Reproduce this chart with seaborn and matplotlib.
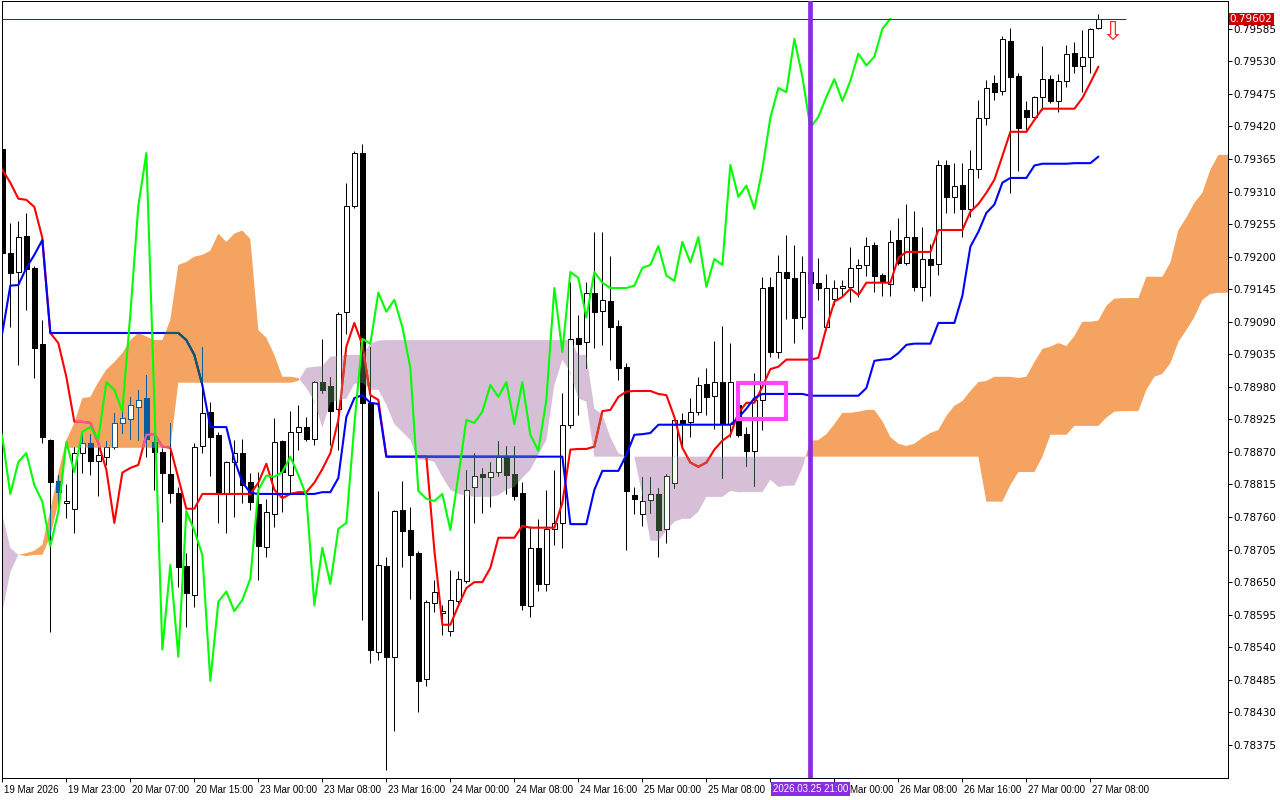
import numpy as np
import pandas as pd
import seaborn as sns
import matplotlib
matplotlib.use("Agg")
import matplotlib.transforms as mtransforms
from matplotlib import pyplot as plt
from matplotlib.path import Path
from matplotlib.patches import Rectangle

# H1 bars, 19 Mar 2026 15:00 .. 27 Mar 2026 09:00
opens = [
    0.79382, 0.79206, 0.79174, 0.79235, 0.79181, 0.79053, 0.78890, 0.78821, 0.78784, 0.78774,
    0.78868, 0.78885, 0.78855, 0.78862, 0.78879, 0.78919, 0.78926, 0.78946, 0.78961, 0.78887,
    0.78870, 0.78833, 0.78801, 0.78677, 0.78628, 0.78880, 0.78938, 0.78899, 0.78799, 0.78853,
    0.78868, 0.78819, 0.78782, 0.78710, 0.78765, 0.78889, 0.78831, 0.78904, 0.78912, 0.78892,
    0.78988, 0.78982, 0.78943, 0.79107, 0.79286, 0.79375, 0.78953, 0.78532, 0.78677, 0.78524,
    0.78772, 0.78738, 0.78699, 0.78486, 0.78615, 0.78598, 0.78568, 0.78618, 0.78652, 0.78811,
    0.78833, 0.78828, 0.78836, 0.78862, 0.78833, 0.78801, 0.78610, 0.78708, 0.78647, 0.78740,
    0.78750, 0.78916, 0.79063, 0.79056, 0.79139, 0.79108, 0.79125, 0.79083, 0.79014, 0.78797,
    0.78765, 0.78789, 0.78799, 0.78740, 0.78818, 0.78924, 0.78921, 0.78938, 0.78985, 0.78965,
    0.78988, 0.78917, 0.78950, 0.78900, 0.78872, 0.78958, 0.79149, 0.79039, 0.79174, 0.79164,
    0.79098, 0.79174, 0.79156, 0.79081, 0.79129, 0.79147, 0.79149, 0.79181, 0.79186, 0.79220,
    0.79169, 0.79154, 0.79228, 0.79190, 0.79233, 0.79149, 0.79196, 0.79188, 0.79355, 0.79301,
    0.79321, 0.79281, 0.79348, 0.79435, 0.79494, 0.79480, 0.79565, 0.79506, 0.79448, 0.79436,
    0.79470, 0.79500, 0.79463, 0.79497, 0.79544, 0.79523, 0.79538, 0.79587,
]
highs = [
    0.79404, 0.79257, 0.79260, 0.79274, 0.79184, 0.79093, 0.78892, 0.78831, 0.78816, 0.78879,
    0.78902, 0.78900, 0.78879, 0.78889, 0.78936, 0.78948, 0.78963, 0.78975, 0.79000, 0.78902,
    0.78877, 0.78919, 0.78811, 0.78699, 0.78885, 0.79048, 0.78955, 0.78904, 0.78855, 0.78890,
    0.78892, 0.78835, 0.78836, 0.78791, 0.78928, 0.78890, 0.78939, 0.78950, 0.78929, 0.78990,
    0.79061, 0.78997, 0.79107, 0.79325, 0.79379, 0.79391, 0.79048, 0.78804, 0.78693, 0.78772,
    0.78821, 0.78777, 0.78703, 0.78620, 0.78654, 0.78611, 0.78671, 0.78669, 0.78840, 0.78868,
    0.78843, 0.78853, 0.78889, 0.78880, 0.78880, 0.78819, 0.78745, 0.78757, 0.78806, 0.78840,
    0.78970, 0.79157, 0.79102, 0.79157, 0.79242, 0.79242, 0.79201, 0.79093, 0.79020, 0.78811,
    0.78828, 0.78828, 0.78809, 0.78833, 0.78929, 0.78936, 0.78961, 0.78997, 0.79012, 0.79058,
    0.79083, 0.79054, 0.78958, 0.78912, 0.79004, 0.79166, 0.79166, 0.79203, 0.79237, 0.79220,
    0.79201, 0.79191, 0.79198, 0.79171, 0.79161, 0.79161, 0.79217, 0.79196, 0.79233, 0.79225,
    0.79173, 0.79245, 0.79266, 0.79289, 0.79277, 0.79250, 0.79222, 0.79364, 0.79364, 0.79358,
    0.79358, 0.79380, 0.79465, 0.79499, 0.79507, 0.79573, 0.79587, 0.79511, 0.79463, 0.79472,
    0.79556, 0.79507, 0.79509, 0.79558, 0.79563, 0.79583, 0.79587, 0.79610,
]
lows = [
    0.79203, 0.79081, 0.79017, 0.79110, 0.78995, 0.78885, 0.78566, 0.78784, 0.78759, 0.78733,
    0.78835, 0.78831, 0.78796, 0.78848, 0.78875, 0.78902, 0.78892, 0.78890, 0.78862, 0.78806,
    0.78752, 0.78784, 0.78642, 0.78574, 0.78608, 0.78868, 0.78830, 0.78750, 0.78733, 0.78760,
    0.78784, 0.78772, 0.78654, 0.78693, 0.78743, 0.78769, 0.78801, 0.78874, 0.78889, 0.78882,
    0.78970, 0.78882, 0.78874, 0.79070, 0.79282, 0.78586, 0.78514, 0.78519, 0.78333, 0.78399,
    0.78676, 0.78622, 0.78431, 0.78475, 0.78600, 0.78561, 0.78559, 0.78610, 0.78649, 0.78750,
    0.78767, 0.78777, 0.78830, 0.78799, 0.78789, 0.78603, 0.78591, 0.78635, 0.78635, 0.78713,
    0.78708, 0.78911, 0.78933, 0.79012, 0.79046, 0.79051, 0.79026, 0.78992, 0.78704, 0.78765,
    0.78745, 0.78767, 0.78693, 0.78716, 0.78809, 0.78879, 0.78895, 0.78933, 0.78933, 0.78909,
    0.78826, 0.78895, 0.78895, 0.78846, 0.78813, 0.78907, 0.79031, 0.79029, 0.79095, 0.79054,
    0.79078, 0.79135, 0.79127, 0.79076, 0.79119, 0.79134, 0.79124, 0.79132, 0.79168, 0.79141,
    0.79134, 0.79134, 0.79186, 0.79186, 0.79142, 0.79125, 0.79134, 0.79169, 0.79274, 0.79274,
    0.79233, 0.79267, 0.79333, 0.79423, 0.79465, 0.79473, 0.79308, 0.79345, 0.79411, 0.79435,
    0.79448, 0.79460, 0.79445, 0.79487, 0.79511, 0.79478, 0.79511, 0.79585,
]
closes = [
    0.79206, 0.79173, 0.79233, 0.79179, 0.79046, 0.78895, 0.78819, 0.78802, 0.78787, 0.78868,
    0.78885, 0.78855, 0.78865, 0.78879, 0.78919, 0.78928, 0.78950, 0.78958, 0.78892, 0.78870,
    0.78835, 0.78801, 0.78676, 0.78632, 0.78879, 0.78936, 0.78895, 0.78799, 0.78853, 0.78868,
    0.78814, 0.78786, 0.78711, 0.78769, 0.78887, 0.78836, 0.78904, 0.78912, 0.78892, 0.78988,
    0.78975, 0.78939, 0.79103, 0.79286, 0.79375, 0.78953, 0.78536, 0.78679, 0.78524, 0.78770,
    0.78737, 0.78696, 0.78483, 0.78617, 0.78634, 0.78601, 0.78620, 0.78656, 0.78806, 0.78830,
    0.78828, 0.78836, 0.78862, 0.78831, 0.78796, 0.78611, 0.78708, 0.78647, 0.78740, 0.78750,
    0.78916, 0.79061, 0.79053, 0.79139, 0.79107, 0.79127, 0.79081, 0.79012, 0.78804, 0.78791,
    0.78787, 0.78799, 0.78738, 0.78830, 0.78924, 0.78919, 0.78938, 0.78983, 0.78963, 0.78988,
    0.78917, 0.78988, 0.78899, 0.78872, 0.78958, 0.79147, 0.79039, 0.79174, 0.79164, 0.79097,
    0.79174, 0.79156, 0.79147, 0.79147, 0.79147, 0.79151, 0.79181, 0.79186, 0.79218, 0.79168,
    0.79159, 0.79225, 0.79190, 0.79233, 0.79149, 0.79196, 0.79186, 0.79355, 0.79301, 0.79320,
    0.79281, 0.79348, 0.79435, 0.79485, 0.79478, 0.79568, 0.79504, 0.79418, 0.79436, 0.79470,
    0.79500, 0.79463, 0.79497, 0.79543, 0.79523, 0.79538, 0.79585, 0.79602,
]
tenkan = [
    0.79347, 0.79325, 0.79298, 0.79296, 0.79284, 0.79232, 0.79071, 0.79054, 0.78997, 0.78921,
    0.78921, 0.78919, 0.78885, 0.78840, 0.78750, 0.78835, 0.78843, 0.78848, 0.78899, 0.78900,
    0.78879, 0.78877, 0.78826, 0.78774, 0.78774, 0.78799, 0.78799, 0.78799, 0.78799, 0.78799,
    0.78799, 0.78799, 0.78818, 0.78850, 0.78806, 0.78792, 0.78799, 0.78802, 0.78802, 0.78818,
    0.78841, 0.78868, 0.78924, 0.79048, 0.79088, 0.79051, 0.78966, 0.78958, 0.78862, 0.78862,
    0.78862, 0.78862, 0.78862, 0.78862, 0.78704, 0.78578, 0.78578, 0.78610, 0.78640, 0.78650,
    0.78650, 0.78674, 0.78725, 0.78725, 0.78725, 0.78745, 0.78742, 0.78742, 0.78742, 0.78742,
    0.78784, 0.78874, 0.78875, 0.78875, 0.78879, 0.78939, 0.78941, 0.78963, 0.78972, 0.78973,
    0.78973, 0.78973, 0.78968, 0.78966, 0.78929, 0.78877, 0.78852, 0.78845, 0.78852, 0.78874,
    0.78889, 0.78899, 0.78936, 0.78953, 0.78953, 0.78980, 0.79010, 0.79014, 0.79026, 0.79026,
    0.79026, 0.79026, 0.79029, 0.79080, 0.79124, 0.79132, 0.79146, 0.79135, 0.79156, 0.79156,
    0.79156, 0.79156, 0.79198, 0.79208, 0.79208, 0.79208, 0.79208, 0.79245, 0.79245, 0.79245,
    0.79245, 0.79276, 0.79289, 0.79308, 0.79330, 0.79370, 0.79411, 0.79411, 0.79411, 0.79431,
    0.79450, 0.79450, 0.79450, 0.79450, 0.79450, 0.79468, 0.79494, 0.79521,
]
kijun = [
    0.79071, 0.79151, 0.79152, 0.79181, 0.79203, 0.79228, 0.79071, 0.79071, 0.79071, 0.79071,
    0.79071, 0.79071, 0.79071, 0.79071, 0.79071, 0.79071, 0.79071, 0.79071, 0.79071, 0.79071,
    0.79071, 0.79071, 0.79071, 0.79059, 0.79034, 0.78983, 0.78912, 0.78912, 0.78912, 0.78857,
    0.78819, 0.78801, 0.78799, 0.78799, 0.78799, 0.78799, 0.78799, 0.78799, 0.78799, 0.78799,
    0.78802, 0.78802, 0.78826, 0.78929, 0.78961, 0.78966, 0.78953, 0.78951, 0.78862, 0.78862,
    0.78862, 0.78862, 0.78862, 0.78862, 0.78862, 0.78862, 0.78862, 0.78862, 0.78862, 0.78862,
    0.78862, 0.78862, 0.78862, 0.78862, 0.78862, 0.78862, 0.78862, 0.78862, 0.78862, 0.78862,
    0.78862, 0.78748, 0.78748, 0.78748, 0.78806, 0.78838, 0.78838, 0.78838, 0.78865, 0.78899,
    0.78900, 0.78902, 0.78916, 0.78916, 0.78916, 0.78916, 0.78916, 0.78916, 0.78916, 0.78916,
    0.78916, 0.78916, 0.78928, 0.78943, 0.78961, 0.78968, 0.78968, 0.78968, 0.78968, 0.78968,
    0.78968, 0.78965, 0.78965, 0.78965, 0.78965, 0.78965, 0.78965, 0.78965, 0.78978, 0.79024,
    0.79026, 0.79027, 0.79037, 0.79051, 0.79053, 0.79053, 0.79053, 0.79088, 0.79088, 0.79088,
    0.79134, 0.79217, 0.79242, 0.79274, 0.79288, 0.79325, 0.79333, 0.79333, 0.79333, 0.79354,
    0.79357, 0.79357, 0.79357, 0.79357, 0.79358, 0.79358, 0.79358, 0.79369,
]
# senkou spans as drawn, i.e. already moved 26 bars ahead (index = chart bar)
span_a = [
    0.78600, 0.78667, 0.78696, 0.78699, 0.78703, 0.78713, 0.78772, 0.78835, 0.78890, 0.78919,
    0.78961, 0.78963, 0.78988, 0.79009, 0.79022, 0.79037, 0.79059, 0.79071, 0.79065, 0.79059,
    0.79059, 0.79093, 0.79186, 0.79191, 0.79200, 0.79203, 0.79210, 0.79239, 0.79225, 0.79239,
    0.79244, 0.79230, 0.79076, 0.79063, 0.79034, 0.78997, 0.78997, 0.78995, 0.78978, 0.78956,
    0.78911, 0.78953, 0.78958, 0.78960, 0.78985, 0.78987, 0.78975, 0.78975, 0.78950, 0.78917,
    0.78904, 0.78890, 0.78857, 0.78857, 0.78853, 0.78828, 0.78806, 0.78799, 0.78796, 0.78794,
    0.78794, 0.78794, 0.78797, 0.78806, 0.78811, 0.78826, 0.78840, 0.78865, 0.78890, 0.78983,
    0.79026, 0.79005, 0.78960, 0.78955, 0.78862, 0.78862, 0.78862, 0.78862, 0.78862, 0.78862,
    0.78797, 0.78720, 0.78720, 0.78737, 0.78752, 0.78757, 0.78757, 0.78769, 0.78794, 0.78794,
    0.78794, 0.78804, 0.78802, 0.78802, 0.78802, 0.78802, 0.78823, 0.78811, 0.78813, 0.78813,
    0.78843, 0.78889, 0.78890, 0.78900, 0.78917, 0.78936, 0.78936, 0.78938, 0.78941, 0.78941,
    0.78922, 0.78895, 0.78884, 0.78880, 0.78884, 0.78894, 0.78902, 0.78907, 0.78931, 0.78948,
    0.78956, 0.78973, 0.78988, 0.78990, 0.78997, 0.78997, 0.78997, 0.78995, 0.78997, 0.79022,
    0.79044, 0.79048, 0.79054, 0.79049, 0.79066, 0.79090, 0.79090, 0.79092, 0.79117, 0.79129,
    0.79130, 0.79130, 0.79130, 0.79166, 0.79166, 0.79166, 0.79190, 0.79245, 0.79266, 0.79291,
    0.79308, 0.79347, 0.79372, 0.79372, 0.79372,
]
span_b = [
    0.78764, 0.78708, 0.78696, 0.78694, 0.78696, 0.78696, 0.78727, 0.78784, 0.78877, 0.78877,
    0.78877, 0.78877, 0.78877, 0.78877, 0.78877, 0.78877, 0.78877, 0.78877, 0.78877, 0.78877,
    0.78877, 0.78877, 0.78987, 0.78987, 0.78987, 0.78987, 0.78987, 0.78987, 0.78987, 0.78987,
    0.78987, 0.78987, 0.78987, 0.78987, 0.78987, 0.78987, 0.78987, 0.78990, 0.79012, 0.79014,
    0.79015, 0.79031, 0.79032, 0.79034, 0.79034, 0.79034, 0.79053, 0.79058, 0.79059, 0.79059,
    0.79059, 0.79059, 0.79059, 0.79059, 0.79059, 0.79059, 0.79059, 0.79059, 0.79059, 0.79059,
    0.79059, 0.79059, 0.79059, 0.79059, 0.79059, 0.79059, 0.79059, 0.79059, 0.79059, 0.79059,
    0.79059, 0.79059, 0.79034, 0.79034, 0.78943, 0.78933, 0.78895, 0.78868, 0.78862, 0.78862,
    0.78862, 0.78862, 0.78862, 0.78862, 0.78862, 0.78862, 0.78862, 0.78862, 0.78862, 0.78862,
    0.78862, 0.78862, 0.78862, 0.78862, 0.78862, 0.78862, 0.78862, 0.78862, 0.78862, 0.78862,
    0.78862, 0.78862, 0.78862, 0.78862, 0.78862, 0.78862, 0.78862, 0.78862, 0.78862, 0.78862,
    0.78862, 0.78862, 0.78862, 0.78862, 0.78862, 0.78862, 0.78862, 0.78862, 0.78862, 0.78862,
    0.78862, 0.78862, 0.78862, 0.78786, 0.78786, 0.78786, 0.78814, 0.78836, 0.78836, 0.78836,
    0.78862, 0.78899, 0.78899, 0.78899, 0.78914, 0.78914, 0.78914, 0.78914, 0.78928, 0.78938,
    0.78939, 0.78939, 0.78939, 0.78975, 0.78997, 0.79002, 0.79020, 0.79056, 0.79076, 0.79098,
    0.79127, 0.79137, 0.79139, 0.79139, 0.79139,
]

# time axis; the 25 Mar 16:00 label sits under the marker box and only the tail
# of "26 Mar 00:00" shows to the right of it
date_ticks = [0, 8, 16, 24, 32, 40, 48, 56, 64, 72, 80, 88, 96, 104, 112, 120, 128, 136]
date_labels = ['19 Mar 2026', '19 Mar 23:00', '20 Mar 07:00', '20 Mar 15:00', '23 Mar 00:00',
               '23 Mar 08:00', '23 Mar 16:00', '24 Mar 00:00', '24 Mar 08:00', '24 Mar 16:00',
               '25 Mar 00:00', '25 Mar 08:00', '', 'Mar 00:00', '26 Mar 08:00',
               '26 Mar 16:00', '27 Mar 00:00', '27 Mar 08:00']
label_shift_px = [2, 2, 2, 2, 2, 2, 2, 2, 2, 2, 2, 2, 2, 16, 2, 2, 2, 2]
price_ticks = [0.78375, 0.78430, 0.78485, 0.78540, 0.78595, 0.78650, 0.78705, 0.78760,
               0.78815, 0.78870, 0.78925, 0.78980, 0.79035, 0.79090, 0.79145, 0.79200,
               0.79255, 0.79310, 0.79365, 0.79420, 0.79475, 0.79530, 0.79585]

last_price = 0.79602
vline_bar = 101
vline_text = '2026.03.25 21:00'
box_bars = (92, 98)
box_prices = (0.78926, 0.78987)
arrow_bar, arrow_price = 138.8, 0.79578
shift = 26

df = pd.DataFrame({'open': opens, 'high': highs, 'low': lows, 'close': closes,
                   'tenkan': tenkan, 'kijun': kijun})
df['bar'] = np.arange(len(df))
cloud = pd.DataFrame({'a': span_a, 'b': span_b})
cloud['bar'] = np.arange(len(cloud))

sns.set_theme(style="white")
plt.rcParams['font.family'] = ['DejaVu Sans']

fig = plt.figure(figsize=(12.8, 8), dpi=100)
ax = fig.add_axes([2 / 1280, 22 / 800, 1226 / 1280, 777 / 800])
PX = 0.72  # one pixel, in points


def draw_candles(line_col, bear_col, z, clip=None):
    wick = ax.vlines(df['bar'], df['low'], df['high'], colors=line_col, linewidth=PX, zorder=z)
    bear = df['close'] < df['open']
    body = ax.bar(df['bar'], (df['close'] - df['open']).abs(),
                  bottom=df[['open', 'close']].min(axis=1), width=0.6,
                  color=list(np.where(bear, bear_col, 'white')),
                  edgecolor=line_col, linewidth=PX, zorder=z)
    if clip is not None:
        wick.set_clip_path(clip, ax.transData)
        for p in body.patches:
            p.set_clip_path(clip, ax.transData)


up = ax.fill_between(cloud['bar'], cloud['a'], cloud['b'], where=cloud['a'] >= cloud['b'],
                     interpolate=True, color='#F4A460', linewidth=0, zorder=1)
dn = ax.fill_between(cloud['bar'], cloud['a'], cloud['b'], where=cloud['a'] < cloud['b'],
                     interpolate=True, color='#D8BFD8', linewidth=0, zorder=1)

draw_candles('black', 'black', 2)
sns.lineplot(data=df, x='bar', y='tenkan', color='#FF0000', linewidth=1.5, ax=ax, zorder=3)
sns.lineplot(data=df, x='bar', y='kijun', color='#0000FF', linewidth=1.5, ax=ax, zorder=3)

# the terminal paints the cloud in xor mode, so whatever lies under it changes colour
xor_cols = [(up, '#0B5B9F', '#F45B9F', '#0B5B60'),
            (dn, '#274027', '#D84027', '#2740D8')]
for coll, k_col, r_col, b_col in xor_cols:
    clip = Path.make_compound_path(*coll.get_paths())
    draw_candles(k_col, k_col, 4, clip)
    for name, c in [('tenkan', r_col), ('kijun', b_col)]:
        ln, = ax.plot(df['bar'], df[name], color=c, linewidth=1.5, zorder=4)
        ln.set_clip_path(clip, ax.transData)

# chikou span = close moved 26 bars back
sns.lineplot(x=df['bar'] - shift, y=df['close'], color='#00FF00', linewidth=1.5, ax=ax, zorder=5)

ax.hlines(last_price, -0.04, 140.5, color='#4A2A2A', linewidth=PX, zorder=6)
ax.axvline(vline_bar, color='#8A2BE2', linewidth=3.4, zorder=6)
ax.add_patch(Rectangle((box_bars[0], box_prices[0]), box_bars[1] - box_bars[0],
                       box_prices[1] - box_prices[0], fill=False, edgecolor='#FF44FF',
                       linewidth=3, zorder=7))
ax.text(arrow_bar, arrow_price, '\u21e9', color='#FF2A2A', fontsize=19,
        ha='center', va='center', zorder=8)

ax.set_xlim(-0.04, 153.2)
ax.set_ylim(0.78319, 0.79632)
ax.set_xlabel('')
ax.set_ylabel('')
ax.grid(False)
for s in ax.spines.values():
    s.set_color('black')
    s.set_linewidth(PX)

ax.yaxis.tick_right()
ax.set_yticks(price_ticks)
ax.set_yticklabels(['%.5f' % p for p in price_ticks])
ax.tick_params(axis='y', which='both', direction='out', length=3, width=PX, pad=1,
               labelsize=7.5, colors='black', left=False, right=True)

ax.set_xticks(date_ticks)
ax.set_xticklabels(date_labels, ha='left', fontsize=7, family='Liberation Sans')
ax.tick_params(axis='x', direction='out', length=3, width=PX, pad=2, bottom=True, colors='black')
for lbl, dx in zip(ax.get_xticklabels(), label_shift_px):
    nudge = mtransforms.ScaledTranslation(dx / 100, 0, fig.dpi_scale_trans)
    lbl.set_transform(lbl.get_transform() + nudge)

ax.text(vline_bar, -0.0145, vline_text, transform=ax.get_xaxis_transform(), ha='center',
        va='center', fontsize=7, family='Liberation Sans', color='white', zorder=10,
        clip_on=False, bbox=dict(boxstyle='square,pad=0.2', fc='#8A2BE2', ec='none'))
price_tr = mtransforms.blended_transform_factory(ax.transAxes, ax.transData)
ax.text(1.0015, last_price, '%.5f' % last_price, transform=price_tr, ha='left', va='center',
        fontsize=7.5, color='white', zorder=10, clip_on=False,
        bbox=dict(boxstyle='square,pad=0.12', fc='#C80000', ec='none'))

fig.savefig('out.png', dpi=100)
